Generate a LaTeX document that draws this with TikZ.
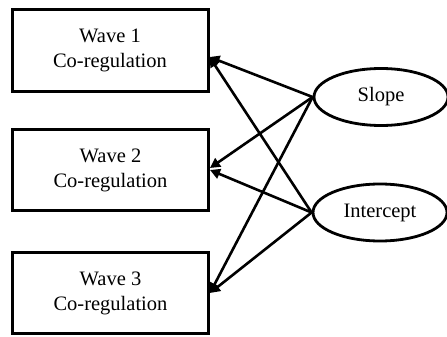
\documentclass[tikz,border=0pt]{standalone}
\usepackage{fontspec}
\setmainfont{Liberation Serif}
\usetikzlibrary{arrows.meta,shapes.geometric}
\begin{document}
\begin{tikzpicture}[x=1pt,y=-1pt,
  wavebox/.style={draw,line width=3pt,minimum width=196pt,minimum height=81pt,align=center,inner sep=0pt,font=\fontsize{20.5}{25}\selectfont},
  latent/.style={draw,ellipse,line width=2.8pt,minimum width=134pt,minimum height=57pt,inner sep=0pt,font=\fontsize{20.5}{25}\selectfont},
  path/.style={line width=2.6pt,-{Triangle[length=10pt,width=10pt]}}]
\useasboundingbox (0,0) rectangle (447,337);
\node[wavebox] (b1) at (110,50.5) {Wave 1\\Co-regulation};
\node[wavebox] (b2) at (110.5,170) {Wave 2\\Co-regulation};
\node[wavebox] (b3) at (110.5,293) {Wave 3\\Co-regulation};
\node[latent] (s) at (381,97) {Slope};
\node[latent] (i) at (380,212.5) {Intercept};
\draw[path] (s.west) -- ([yshift=-6.5pt]b1.east);
\draw[path] (s.west) -- ([yshift=2pt]b2.east);
\draw[path] (s.west) -- (b3.east);
\draw[path] (i.west) -- ([yshift=-6.5pt]b1.east);
\draw[path] (i.west) -- ([yshift=0pt]b2.east);
\draw[path] (i.west) -- (b3.east);
\end{tikzpicture}
\end{document}
